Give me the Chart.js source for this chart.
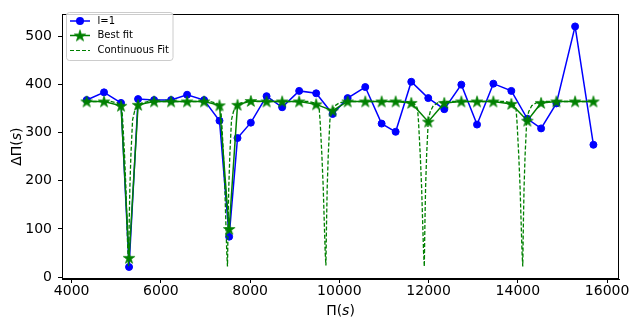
<!DOCTYPE html>
<html>
<head>
<meta charset="utf-8">
<script src="https://cdn.jsdelivr.net/npm/chart.js@4"></script>
<style>
  body { margin: 0; background: #fff; }
  #wrap { width: 636px; height: 327px; }
</style>
</head>
<body>
<div id="wrap"><canvas id="chart" width="636" height="327"></canvas></div>
<script>
// periods Pi(s) of the observed modes
const periods = [4336, 4725, 5106, 5286, 5488, 5847, 6228, 6587, 6968, 7313, 7529, 7717,
    8015, 8368, 8717, 9099, 9480, 9848, 10185, 10580, 10947, 11261, 11611, 11992,
    12351, 12733, 13085, 13451, 13854, 14213, 14521, 14864, 15283, 15694];
// l=1 period spacing
const l1Spacing = [368, 384, 362, 21, 370, 368, 368, 379, 368, 325, 84, 289,
    321, 376, 353, 387, 382, 339, 372, 395, 319, 302, 406, 372,
    349, 400, 317, 402, 387, 329, 309, 361, 521, 275];
// best fit at the same periods
const bestFit = [365, 365, 356, 40, 358, 365, 365, 365, 365, 357, 100, 358,
    366, 365, 365, 365, 359, 346, 365, 365, 365, 365, 362, 323,
    362, 365, 365, 365, 360, 325, 362, 365, 365, 365];
// continuous fit
const contFitX = [4336,
    4875, 5025, 5095, 5125, 5147, 5185, 5215, 5237, 5259, 5275, 5290, 5304, 5327, 5365, 5409, 5475, 5575, 5725,
    7092, 7242, 7312, 7342, 7364, 7402, 7432, 7454, 7476, 7492, 7507, 7521, 7544, 7582, 7626, 7692, 7792, 7942,
    9298, 9448, 9518, 9548, 9570, 9608, 9638, 9660, 9682, 9698, 9713, 9727, 9750, 9788, 9832, 9898, 9998, 10148,
    11503, 11653, 11723, 11753, 11775, 11813, 11843, 11865, 11887, 11903, 11918, 11932, 11955, 11993, 12037, 12103, 12203, 12353,
    13710, 13860, 13930, 13960, 13982, 14020, 14050, 14072, 14094, 14110, 14125, 14139, 14162, 14200, 14244, 14310, 14410, 14560,
    15694];
const contFitY = [365,
    365, 362, 356, 349, 321, 253, 186, 118, 51, 22, 118, 186, 253, 327, 344, 356, 362, 365,
    365, 362, 356, 349, 321, 253, 186, 118, 51, 22, 118, 186, 253, 327, 344, 356, 362, 365,
    365, 362, 356, 349, 321, 253, 186, 118, 51, 24, 118, 186, 253, 327, 344, 356, 362, 365,
    365, 362, 356, 349, 321, 253, 186, 118, 51, 22, 118, 186, 253, 327, 344, 356, 362, 365,
    365, 362, 356, 349, 321, 253, 186, 118, 51, 22, 118, 186, 253, 327, 344, 356, 362, 365,
    365];
const xTicks = [4000, 6000, 8000, 10000, 12000, 14000, 16000];
const yTicks = [0, 100, 200, 300, 400, 500];

const fontFamily = '"DejaVu Sans", sans-serif';

function makeStar(r, color) {
    const c = document.createElement('canvas');
    const size = Math.ceil(2 * r + 2);
    c.width = size;
    c.height = size;
    const ctx = c.getContext('2d');
    const cx = size / 2, cy = size / 2 + 0.5;
    ctx.beginPath();
    for (let i = 0; i < 10; i++) {
        const rad = i % 2 === 0 ? r : r * 0.382;
        const a = -Math.PI / 2 + i * Math.PI / 5;
        const px = cx + rad * Math.cos(a), py = cy + rad * Math.sin(a);
        if (i === 0) ctx.moveTo(px, py); else ctx.lineTo(px, py);
    }
    ctx.closePath();
    ctx.fillStyle = color;
    ctx.fill();
    ctx.strokeStyle = color;
    ctx.lineWidth = 0.8;
    ctx.stroke();
    return c;
}
const starImg = makeStar(6, '#008000');

// draws "pre" + italic "s" + ")" centred on (0, 0)
function mathLabel(ctx, pre) {
    const up = '14px ' + fontFamily, it = 'italic 14px ' + fontFamily;
    ctx.font = up;
    const w1 = ctx.measureText(pre).width, w3 = ctx.measureText(')').width;
    ctx.font = it;
    const w2 = ctx.measureText('s').width;
    let x = -(w1 + w2 + w3) / 2;
    ctx.textAlign = 'left';
    ctx.textBaseline = 'middle';
    ctx.font = up; ctx.fillText(pre, x, 0); x += w1;
    ctx.font = it; ctx.fillText('s', x, 0); x += w2;
    ctx.font = up; ctx.fillText(')', x, 0);
}

const boxAndLegend = {
    id: 'boxAndLegend',
    afterDraw(chart) {
        const {ctx, chartArea: a} = chart;
        ctx.save();
        ctx.strokeStyle = '#000';
        ctx.lineWidth = 1;
        ctx.strokeRect(Math.round(a.left) + 0.5, Math.round(a.top) + 0.5,
            Math.round(a.right - a.left) - 1, Math.round(a.bottom - a.top) - 1);

        // axis titles
        ctx.fillStyle = '#000';
        ctx.save();
        ctx.translate((a.left + a.right) / 2, 311);
        mathLabel(ctx, 'Π(');
        ctx.restore();
        ctx.save();
        ctx.translate(17, (a.top + a.bottom) / 2);
        ctx.rotate(-Math.PI / 2);
        mathLabel(ctx, 'ΔΠ(');
        ctx.restore();

        // legend
        const bx = 66.5, by = 12.5, bw = 106.5, bh = 48, r = 3;
        ctx.beginPath();
        ctx.moveTo(bx + r, by);
        ctx.arcTo(bx + bw, by, bx + bw, by + bh, r);
        ctx.arcTo(bx + bw, by + bh, bx, by + bh, r);
        ctx.arcTo(bx, by + bh, bx, by, r);
        ctx.arcTo(bx, by, bx + bw, by, r);
        ctx.closePath();
        ctx.fillStyle = 'rgba(255,255,255,0.8)';
        ctx.fill();
        ctx.strokeStyle = '#cccccc';
        ctx.stroke();

        const x0 = 70, x1 = 90, xm = 80, tx = 97.5;
        const rows = [21, 35.5, 50.5];
        // l=1
        ctx.strokeStyle = '#0000ff';
        ctx.lineWidth = 1.5;
        ctx.beginPath(); ctx.moveTo(x0, rows[0]); ctx.lineTo(x1, rows[0]); ctx.stroke();
        ctx.fillStyle = '#0000ff';
        ctx.beginPath(); ctx.arc(xm, rows[0], 4, 0, Math.PI * 2); ctx.fill();
        // best fit
        ctx.strokeStyle = '#008000';
        ctx.beginPath(); ctx.moveTo(x0, rows[1]); ctx.lineTo(x1, rows[1]); ctx.stroke();
        ctx.drawImage(starImg, xm - starImg.width / 2, rows[1] - starImg.height / 2);
        // continuous fit
        ctx.lineWidth = 1.1;
        ctx.setLineDash([4, 2]);
        ctx.beginPath(); ctx.moveTo(x0, rows[2]); ctx.lineTo(x1, rows[2]); ctx.stroke();
        ctx.setLineDash([]);

        ctx.fillStyle = '#000';
        ctx.font = '10px ' + fontFamily;
        ctx.textAlign = 'left';
        ctx.textBaseline = 'middle';
        ctx.fillText('l=1', tx, rows[0]);
        ctx.fillText('Best fit', tx, rows[1]);
        ctx.fillText('Continuous Fit', tx, rows[2]);
        ctx.restore();
    }
};

const ctx = document.getElementById('chart').getContext('2d');
const chart = new Chart(ctx, {
    type: 'line',
    data: {
        datasets: [{
            label: 'Continuous Fit',
            data: contFitX.map((x, i) => ({x: x, y: contFitY[i]})),
            borderColor: '#008000',
            borderWidth: 1.3,
            borderDash: [4, 2],
            pointRadius: 0,
            fill: false,
            order: 0
        }, {
            label: 'Best fit',
            data: periods.map((x, i) => ({x: x, y: bestFit[i]})),
            borderColor: '#008000',
            backgroundColor: '#008000',
            borderWidth: 1.5,
            pointStyle: starImg,
            pointRadius: 6,
            fill: false,
            order: 1
        }, {
            label: 'l=1',
            data: periods.map((x, i) => ({x: x, y: l1Spacing[i]})),
            borderColor: '#0000ff',
            backgroundColor: '#0000ff',
            borderWidth: 1.5,
            pointRadius: 3.5,
            pointBorderWidth: 1,
            fill: false,
            order: 2
        }]
    },
    options: {
        responsive: false,
        animation: false,
        layout: { padding: { top: 7, right: 17, left: 0, bottom: 0 } },
        plugins: {
            legend: { display: false },
            tooltip: { enabled: false }
        },
        scales: {
            x: {
                type: 'linear',
                min: 3783,
                max: 16267,
                afterBuildTicks: (scale) => { scale.ticks = xTicks.map(v => ({value: v})); },
                afterFit: (scale) => { scale.height = 48; },
                grid: { drawOnChartArea: false, tickLength: 4, tickColor: '#000', color: '#000' },
                border: { display: true, color: '#000' },
                ticks: {
                    color: '#000', font: { family: fontFamily, size: 14 }, padding: 0, maxRotation: 0,
                    callback: (v) => String(v)
                }
            },
            y: {
                min: -4,
                max: 546,
                afterBuildTicks: (scale) => { scale.ticks = yTicks.map(v => ({value: v})); },
                afterFit: (scale) => { scale.width = 62; },
                grid: { drawOnChartArea: false, tickLength: 4, tickColor: '#000', color: '#000' },
                border: { display: true, color: '#000' },
                ticks: {
                    color: '#000', font: { family: fontFamily, size: 14 }, padding: 6,
                    callback: (v) => String(v)
                }
            }
        }
    },
    plugins: [boxAndLegend]
});
</script>
</body>
</html>
